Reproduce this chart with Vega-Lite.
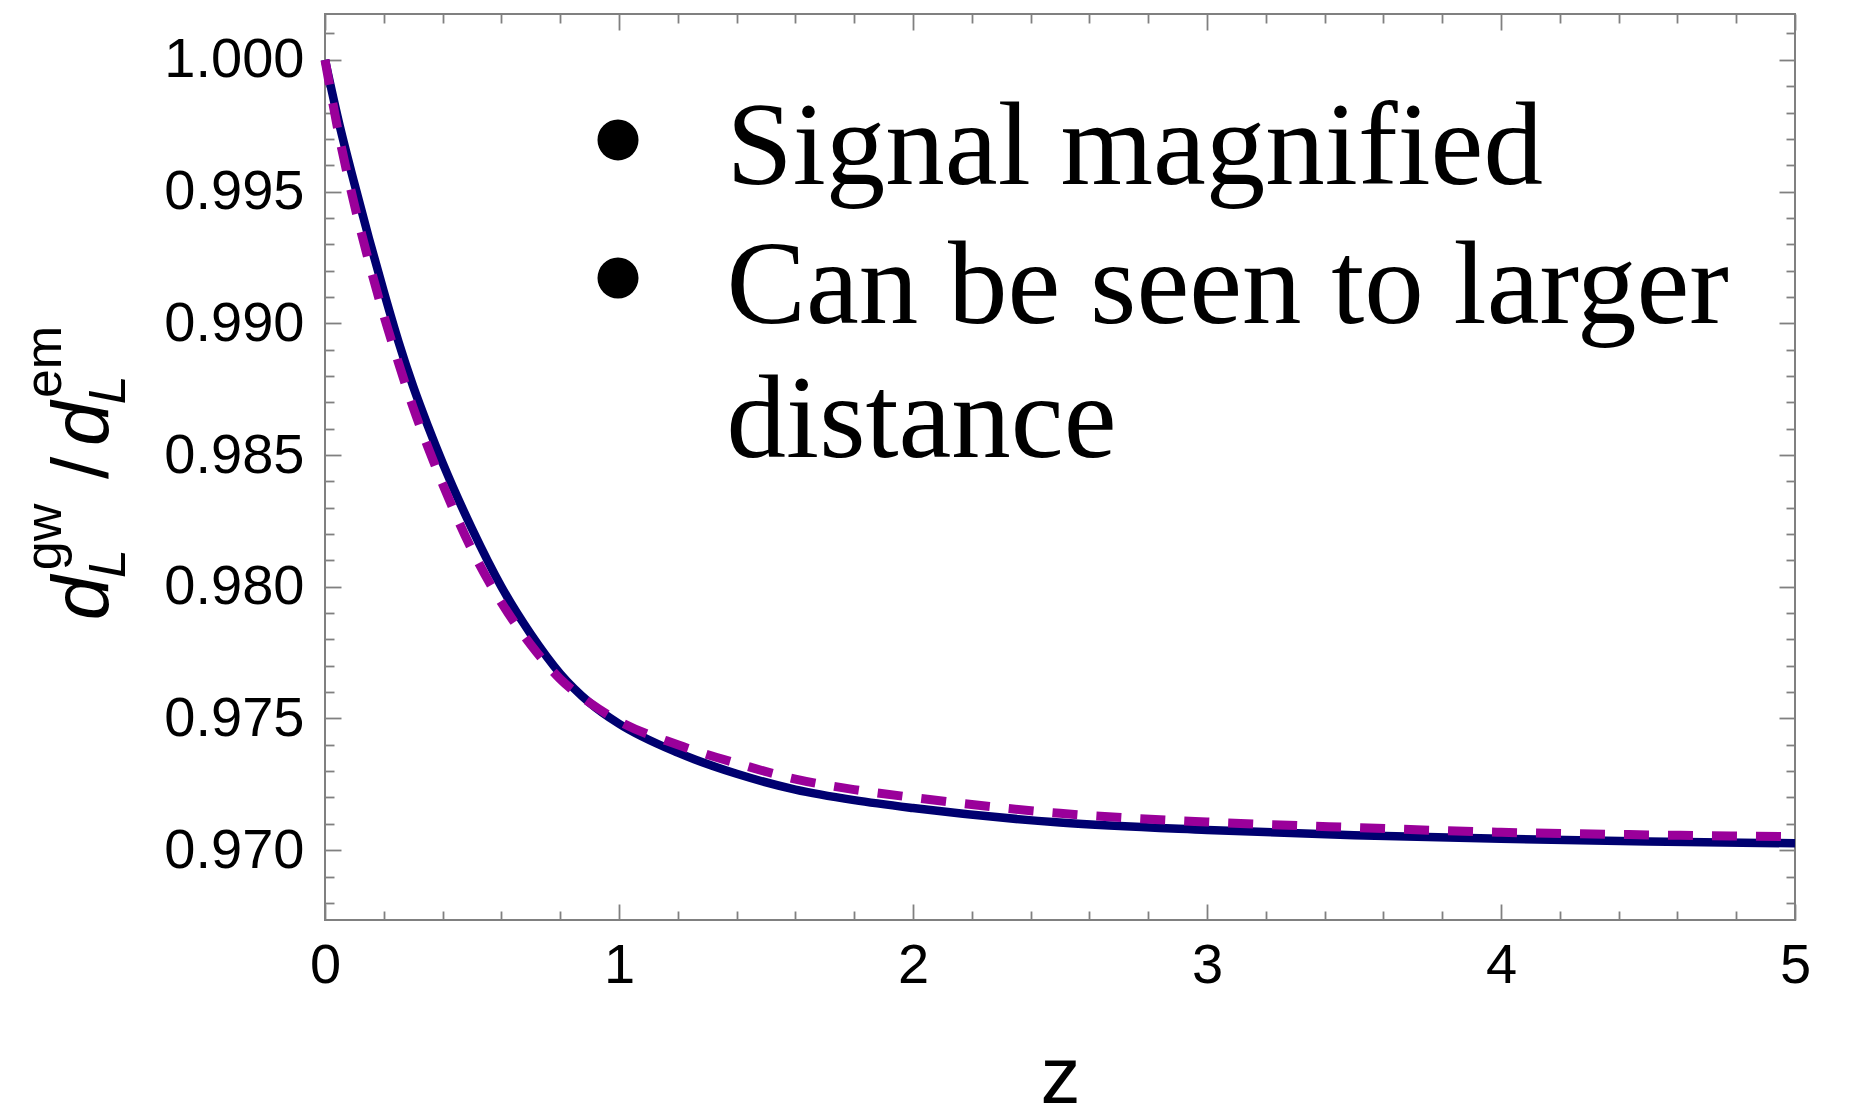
{
  "$schema": "https://vega.github.io/schema/vega-lite/v6.json",
  "width": 1470,
  "height": 906,
  "autosize": {"type": "none"},
  "padding": {"left": 325, "top": 14, "right": 61, "bottom": 192},
  "background": "white",
  "config": {
    "font": "Liberation Sans",
    "view": {"stroke": "#808080", "strokeWidth": 2},
    "axis": {
      "domain": false,
      "grid": false,
      "tickColor": "#808080",
      "tickWidth": 1.8,
      "labelFont": "Liberation Sans",
      "labelFontSize": 56,
      "labelColor": "black",
      "labelOverlap": false,
      "labelFlush": false,
      "labelBound": false
    },
    "text": {"color": "black"},
    "legend": {"disable": true}
  },
  "datasets": {
    "curves": [
      {"series": "numerical", "z": 0.0, "v": 1.0},
      {"series": "numerical", "z": 0.05, "v": 0.9975},
      {"series": "numerical", "z": 0.1, "v": 0.9953},
      {"series": "numerical", "z": 0.15, "v": 0.9932},
      {"series": "numerical", "z": 0.2, "v": 0.9912},
      {"series": "numerical", "z": 0.25, "v": 0.9893},
      {"series": "numerical", "z": 0.3, "v": 0.9876},
      {"series": "numerical", "z": 0.35, "v": 0.9861},
      {"series": "numerical", "z": 0.4, "v": 0.9847},
      {"series": "numerical", "z": 0.5, "v": 0.9822},
      {"series": "numerical", "z": 0.6, "v": 0.98},
      {"series": "numerical", "z": 0.7, "v": 0.9782},
      {"series": "numerical", "z": 0.8, "v": 0.9767},
      {"series": "numerical", "z": 0.9, "v": 0.9756},
      {"series": "numerical", "z": 1.0, "v": 0.9748},
      {"series": "numerical", "z": 1.2, "v": 0.9737},
      {"series": "numerical", "z": 1.4, "v": 0.9729},
      {"series": "numerical", "z": 1.6, "v": 0.9723},
      {"series": "numerical", "z": 1.8, "v": 0.9719},
      {"series": "numerical", "z": 2.0, "v": 0.9716},
      {"series": "numerical", "z": 2.5, "v": 0.97105},
      {"series": "numerical", "z": 3.0, "v": 0.97077},
      {"series": "numerical", "z": 3.5, "v": 0.97057},
      {"series": "numerical", "z": 4.0, "v": 0.97043},
      {"series": "numerical", "z": 4.5, "v": 0.97033},
      {"series": "numerical", "z": 5.0, "v": 0.97026},
      {"series": "analytic", "z": 0.0, "v": 1.0},
      {"series": "analytic", "z": 0.05, "v": 0.997},
      {"series": "analytic", "z": 0.1, "v": 0.9945},
      {"series": "analytic", "z": 0.15, "v": 0.9923},
      {"series": "analytic", "z": 0.2, "v": 0.9903},
      {"series": "analytic", "z": 0.25, "v": 0.9885},
      {"series": "analytic", "z": 0.3, "v": 0.9868},
      {"series": "analytic", "z": 0.35, "v": 0.9853},
      {"series": "analytic", "z": 0.4, "v": 0.9839},
      {"series": "analytic", "z": 0.5, "v": 0.9814},
      {"series": "analytic", "z": 0.6, "v": 0.9794},
      {"series": "analytic", "z": 0.7, "v": 0.9778},
      {"series": "analytic", "z": 0.8, "v": 0.9765},
      {"series": "analytic", "z": 0.9, "v": 0.9756},
      {"series": "analytic", "z": 1.0, "v": 0.9749},
      {"series": "analytic", "z": 1.2, "v": 0.974},
      {"series": "analytic", "z": 1.4, "v": 0.9733},
      {"series": "analytic", "z": 1.6, "v": 0.9727},
      {"series": "analytic", "z": 1.8, "v": 0.9723},
      {"series": "analytic", "z": 2.0, "v": 0.972},
      {"series": "analytic", "z": 2.5, "v": 0.9714},
      {"series": "analytic", "z": 3.0, "v": 0.97107},
      {"series": "analytic", "z": 3.5, "v": 0.97086},
      {"series": "analytic", "z": 4.0, "v": 0.97068},
      {"series": "analytic", "z": 4.5, "v": 0.97058},
      {"series": "analytic", "z": 5.0, "v": 0.97051}
    ],
    "anchor": [{}]
  },
  "layer": [
    {
      "data": {"name": "curves"},
      "transform": [{"filter": "datum.series === 'numerical'"}],
      "mark": {"type": "line", "color": "#000070", "strokeWidth": 8.5, "interpolate": "monotone"},
      "encoding": {
        "x": {
          "field": "z", "type": "quantitative",
          "scale": {"domain": [0, 5], "nice": false, "zero": false},
          "axis": {
            "orient": "bottom",
            "values": [0, 0.2, 0.4, 0.6, 0.8, 1, 1.2, 1.4, 1.6, 1.8, 2, 2.2, 2.4, 2.6, 2.8, 3, 3.2, 3.4, 3.6, 3.8, 4, 4.2, 4.4, 4.6, 4.8, 5],
            "tickSize": {"condition": {"test": "abs(datum.value - round(datum.value)) < 0.001", "value": -16}, "value": -9},
            "labelExpr": "abs(datum.value - round(datum.value)) < 0.001 ? format(datum.value, 'd') : ''",
            "labelPadding": 34,
            "title": "z",
            "titleFont": "Liberation Sans",
            "titleFontSize": 80,
            "titleFontWeight": "normal",
            "titleColor": "black",
            "titleBaseline": "alphabetic",
            "titleY": 182
          }
        },
        "y": {
          "field": "v", "type": "quantitative",
          "scale": {"domain": [0.96735, 1.00174], "nice": false, "zero": false},
          "axis": {
            "orient": "left",
            "values": [0.968, 0.969, 0.97, 0.971, 0.972, 0.973, 0.974, 0.975, 0.976, 0.977, 0.978, 0.979, 0.98, 0.981, 0.982, 0.983, 0.984, 0.985, 0.986, 0.987, 0.988, 0.989, 0.99, 0.991, 0.992, 0.993, 0.994, 0.995, 0.996, 0.997, 0.998, 0.999, 1.0, 1.001],
            "tickSize": {"condition": {"test": "abs(datum.value * 200 - round(datum.value * 200)) < 0.001", "value": -16}, "value": -9},
            "labelExpr": "abs(datum.value * 200 - round(datum.value * 200)) < 0.001 ? format(datum.value, '.3f') : ''",
            "labelPadding": 37,
            "title": null
          }
        }
      }
    },
    {
      "data": {"name": "curves"},
      "transform": [{"filter": "datum.series === 'analytic'"}],
      "mark": {"type": "line", "color": "#9a009a", "strokeWidth": 9, "strokeDash": [25, 19], "interpolate": "monotone"},
      "encoding": {
        "x": {
          "field": "z", "type": "quantitative",
          "axis": {
            "orient": "top",
            "values": [0, 0.2, 0.4, 0.6, 0.8, 1, 1.2, 1.4, 1.6, 1.8, 2, 2.2, 2.4, 2.6, 2.8, 3, 3.2, 3.4, 3.6, 3.8, 4, 4.2, 4.4, 4.6, 4.8, 5],
            "tickSize": {"condition": {"test": "abs(datum.value - round(datum.value)) < 0.001", "value": -16}, "value": -9},
            "labels": false,
            "title": null
          }
        },
        "y": {
          "field": "v", "type": "quantitative",
          "axis": {
            "orient": "right",
            "values": [0.968, 0.969, 0.97, 0.971, 0.972, 0.973, 0.974, 0.975, 0.976, 0.977, 0.978, 0.979, 0.98, 0.981, 0.982, 0.983, 0.984, 0.985, 0.986, 0.987, 0.988, 0.989, 0.99, 0.991, 0.992, 0.993, 0.994, 0.995, 0.996, 0.997, 0.998, 0.999, 1.0, 1.001],
            "tickSize": {"condition": {"test": "abs(datum.value * 200 - round(datum.value * 200)) < 0.001", "value": -16}, "value": -9},
            "labels": false,
            "title": null
          }
        }
      }
    },
    {
      "data": {"name": "anchor"},
      "mark": {"type": "text", "font": "Liberation Serif", "fontSize": 119, "align": "left", "baseline": "alphabetic"},
      "encoding": {
        "x": {"datum": 1.366, "type": "quantitative", "axis": null},
        "y": {"datum": 0.99528, "type": "quantitative", "axis": null},
        "text": {"value": "Signal magnified"}
      }
    },
    {
      "data": {"name": "anchor"},
      "mark": {"type": "text", "font": "Liberation Serif", "fontSize": 119, "align": "left", "baseline": "alphabetic"},
      "encoding": {
        "x": {"datum": 1.366, "type": "quantitative", "axis": null},
        "y": {"datum": 0.99002, "type": "quantitative", "axis": null},
        "text": {"value": "Can be seen to larger"}
      }
    },
    {
      "data": {"name": "anchor"},
      "mark": {"type": "text", "font": "Liberation Serif", "fontSize": 119, "align": "left", "baseline": "alphabetic"},
      "encoding": {
        "x": {"datum": 1.366, "type": "quantitative", "axis": null},
        "y": {"datum": 0.98494, "type": "quantitative", "axis": null},
        "text": {"value": "distance"}
      }
    },
    {
      "data": {"name": "anchor"},
      "mark": {"type": "point", "shape": "circle", "filled": true, "color": "black", "opacity": 1, "size": 1681},
      "encoding": {
        "x": {"datum": 0.9966, "type": "quantitative", "axis": null},
        "y": {"datum": 0.99696, "type": "quantitative", "axis": null}
      }
    },
    {
      "data": {"name": "anchor"},
      "mark": {"type": "point", "shape": "circle", "filled": true, "color": "black", "opacity": 1, "size": 1681},
      "encoding": {
        "x": {"datum": 0.9966, "type": "quantitative", "axis": null},
        "y": {"datum": 0.99172, "type": "quantitative", "axis": null}
      }
    },
    {
      "data": {"name": "anchor"},
      "mark": {"type": "text", "font": "Liberation Sans", "fontStyle": "italic", "fontSize": 80, "angle": 270, "align": "left", "baseline": "alphabetic"},
      "encoding": {
        "x": {"datum": -0.7381, "type": "quantitative", "axis": null},
        "y": {"datum": 0.97873, "type": "quantitative", "axis": null},
        "text": {"value": "d"}
      }
    },
    {
      "data": {"name": "anchor"},
      "mark": {"type": "text", "font": "Liberation Sans", "fontStyle": "italic", "fontSize": 52, "angle": 270, "align": "left", "baseline": "alphabetic"},
      "encoding": {
        "x": {"datum": -0.6803, "type": "quantitative", "axis": null},
        "y": {"datum": 0.98033, "type": "quantitative", "axis": null},
        "text": {"value": "L"}
      }
    },
    {
      "data": {"name": "anchor"},
      "mark": {"type": "text", "font": "Liberation Sans", "fontSize": 52, "angle": 270, "align": "left", "baseline": "alphabetic"},
      "encoding": {
        "x": {"datum": -0.898, "type": "quantitative", "axis": null},
        "y": {"datum": 0.98063, "type": "quantitative", "axis": null},
        "text": {"value": "gw"}
      }
    },
    {
      "data": {"name": "anchor"},
      "mark": {"type": "text", "font": "Liberation Sans", "fontSize": 80, "angle": 270, "align": "left", "baseline": "alphabetic"},
      "encoding": {
        "x": {"datum": -0.7381, "type": "quantitative", "axis": null},
        "y": {"datum": 0.98409, "type": "quantitative", "axis": null},
        "text": {"value": "/"}
      }
    },
    {
      "data": {"name": "anchor"},
      "mark": {"type": "text", "font": "Liberation Sans", "fontStyle": "italic", "fontSize": 80, "angle": 270, "align": "left", "baseline": "alphabetic"},
      "encoding": {
        "x": {"datum": -0.7381, "type": "quantitative", "axis": null},
        "y": {"datum": 0.98534, "type": "quantitative", "axis": null},
        "text": {"value": "d"}
      }
    },
    {
      "data": {"name": "anchor"},
      "mark": {"type": "text", "font": "Liberation Sans", "fontStyle": "italic", "fontSize": 52, "angle": 270, "align": "left", "baseline": "alphabetic"},
      "encoding": {
        "x": {"datum": -0.6803, "type": "quantitative", "axis": null},
        "y": {"datum": 0.98693, "type": "quantitative", "axis": null},
        "text": {"value": "L"}
      }
    },
    {
      "data": {"name": "anchor"},
      "mark": {"type": "text", "font": "Liberation Sans", "fontSize": 52, "angle": 270, "align": "left", "baseline": "alphabetic"},
      "encoding": {
        "x": {"datum": -0.898, "type": "quantitative", "axis": null},
        "y": {"datum": 0.98716, "type": "quantitative", "axis": null},
        "text": {"value": "em"}
      }
    }
  ],
  "resolve": {"axis": {"x": "independent", "y": "independent"}}
}
